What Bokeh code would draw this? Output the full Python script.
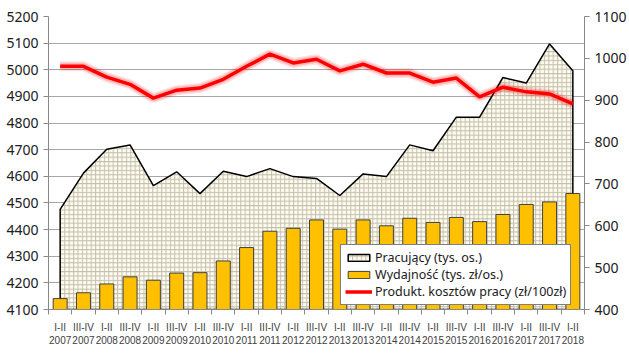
from bokeh.plotting import figure
from bokeh.models import Range1d, LinearAxis, FixedTicker, Legend, LegendItem
from bokeh.embed import file_html
from bokeh.resources import INLINE

categories = ["I-II\n2007", "III-IV\n2007", "I-II\n2008", "III-IV\n2008", "I-II\n2009",
              "III-IV\n2009", "I-II\n2010", "III-IV\n2010", "I-II\n2011", "III-IV\n2011",
              "I-II\n2012", "III-IV\n2012", "I-II\n2013", "III-IV\n2013", "I-II\n2014",
              "III-IV\n2014", "I-II\n2015", "III-IV\n2015", "I-II\n2016", "III-IV\n2016",
              "I-II\n2017", "III-IV\n2017", "I-II\n2018"]

pracujacy = [4476, 4612, 4702, 4718, 4565, 4617, 4535, 4619, 4599, 4629, 4599, 4592,
             4528, 4609, 4599, 4718, 4696, 4822, 4822, 4971, 4950, 5097, 4996]

wydajnosc = [426, 440, 461, 478, 470, 487, 488, 516, 548, 587, 594, 614,
             592, 614, 600, 618, 608, 620, 610, 627, 651, 657, 677]

produkt = [981, 981, 955, 938, 905, 924, 929, 950, 981, 1010, 989, 998,
           970, 986, 965, 965, 943, 953, 908, 931, 920, 915, 891]

left_ticks = list(range(4100, 5201, 100))
right_ticks = list(range(400, 1101, 100))

FONT = "Noto Sans"
TXT = "#404040"

n = len(categories)
xs = list(range(n))

p = figure(width=629, height=354, output_backend="svg", toolbar_location=None,
           x_range=Range1d(-0.5, n - 0.5), y_range=Range1d(4100, 5200),
           min_border_left=48, min_border_right=44, min_border_top=16, min_border_bottom=45)
p.outline_line_color = None
p.background_fill_color = "white"
p.border_fill_color = "white"

p.extra_y_ranges = {"right": Range1d(400, 1100)}

# area (Pracujący)
px = [0] + xs + [n - 1]
py = [left_ticks[0]] + pracujacy + [left_ticks[0]]
area = p.patch(px, py, fill_color="#fffcf0", line_color="black", line_width=1.5,
               hatch_pattern="+", hatch_color="#c4c0ae", hatch_scale=4.4, hatch_weight=1)

bars = p.vbar(x=xs, top=wydajnosc, bottom=400, width=0.6, y_range_name="right",
              fill_color="#ffc000", line_color="#404040", line_width=1)

p.line(xs, produkt, y_range_name="right", line_color="#ff0000", line_width=10, line_alpha=0.12)
p.line(xs, produkt, y_range_name="right", line_color="#ff0000", line_width=7, line_alpha=0.18)
line = p.line(xs, produkt, y_range_name="right", line_color="#ff0000", line_width=3.5)

# axes
p.xaxis.ticker = FixedTicker(ticks=xs, minor_ticks=[i - 0.5 for i in range(n + 1)])
p.xaxis.major_label_overrides = {i: c for i, c in enumerate(categories)}
p.xaxis.major_tick_line_color = None
p.xaxis.minor_tick_line_color = "#888888"
p.xaxis.minor_tick_out = 5
p.xaxis.minor_tick_in = 0
p.xaxis.axis_line_color = "#888888"
p.xaxis.major_label_text_font = "Liberation Sans"
p.xaxis.major_label_text_font_size = "10px"
p.xaxis.major_label_text_color = TXT
p.xaxis.major_label_standoff = 6

p.yaxis.ticker = FixedTicker(ticks=left_ticks)
p.yaxis.minor_tick_line_color = None
p.yaxis.major_tick_out = 5
p.yaxis.major_tick_in = 0
p.yaxis.major_tick_line_color = "#888888"
p.yaxis.axis_line_color = "#888888"
p.yaxis.major_label_text_font = FONT
p.yaxis.major_label_text_font_size = "14px"
p.yaxis.major_label_text_color = "#202020"

raxis = LinearAxis(y_range_name="right", ticker=FixedTicker(ticks=right_ticks))
raxis.minor_tick_line_color = None
raxis.major_tick_out = 5
raxis.major_tick_in = 0
raxis.major_tick_line_color = "#888888"
raxis.axis_line_color = "#888888"
raxis.major_label_text_font = FONT
raxis.major_label_text_font_size = "14px"
raxis.major_label_text_color = "#202020"
p.add_layout(raxis, "right")

p.xgrid.grid_line_color = None
p.ygrid.ticker = FixedTicker(ticks=left_ticks)
p.ygrid.grid_line_color = "#a6a6a6"
p.ygrid.grid_line_width = 1

legend = Legend(items=[
    LegendItem(label="Pracujący (tys. os.)", renderers=[area]),
    LegendItem(label="Wydajność (tys. zł/os.)", renderers=[bars]),
    LegendItem(label="Produkt. kosztów pracy (zł/100zł)", renderers=[line]),
], location=(292, 4))
legend.border_line_color = "black"
legend.border_line_width = 1
legend.background_fill_alpha = 1
legend.label_text_font = FONT
legend.label_text_font_size = "12.5px"
legend.label_text_color = "#202020"
legend.glyph_width = 27
legend.glyph_height = 9
legend.label_height = 15
legend.label_standoff = 3
legend.spacing = 0
legend.padding = 4
legend.margin = 0
p.add_layout(legend)

open("out.html", "w").write(file_html(p, INLINE))
